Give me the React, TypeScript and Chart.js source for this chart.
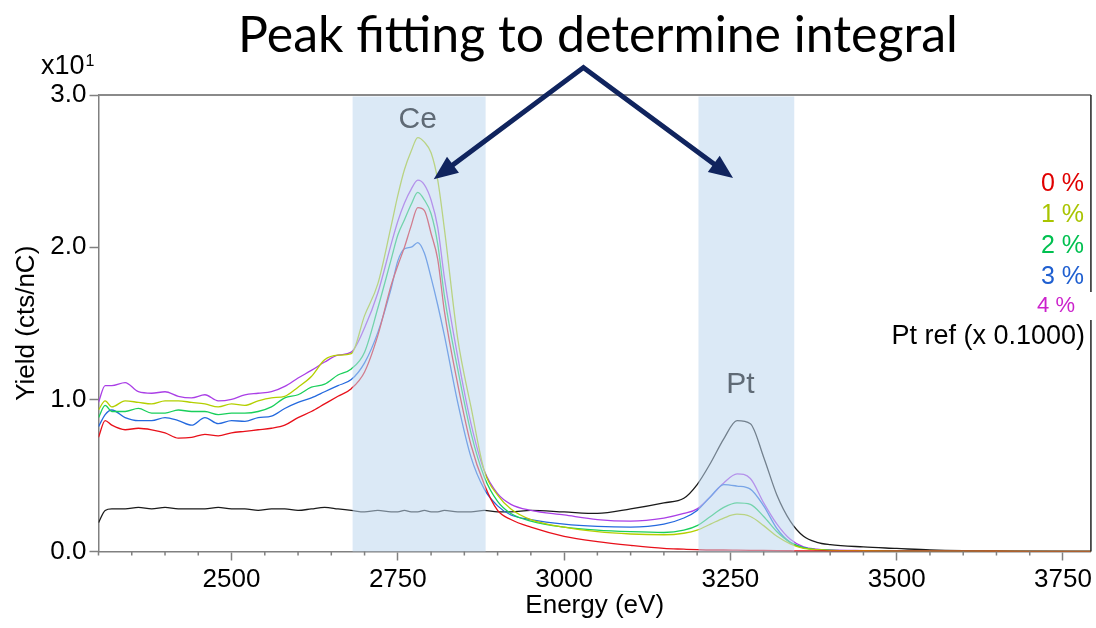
import React, { useEffect, useRef } from "react";
import { Chart, registerables } from "chart.js";

Chart.register(...registerables);

// ---------- data ----------
const energy = [
  2300, 2310, 2320, 2340, 2360, 2380, 2400, 2420, 2440, 2460, 2480, 2500, 2520, 2540, 2560, 2580, 2600, 2620, 2640, 2660,
  2680, 2700, 2720, 2740, 2750, 2760, 2770, 2780, 2790, 2800, 2810, 2820, 2840, 2860, 2880, 2900, 2920,
  2950, 3000, 3050, 3100, 3150, 3180,
  3200, 3220, 3240, 3260, 3280, 3300, 3320, 3340, 3360, 3380,
  3400, 3450, 3500, 3550, 3600, 3700, 3792,
];

const yield0 = [
  0.75, 0.86, 0.83, 0.80, 0.81, 0.80, 0.78, 0.745, 0.75, 0.77, 0.76, 0.78, 0.79, 0.80, 0.81, 0.83, 0.88, 0.92, 0.97, 1.02,
  1.07, 1.18, 1.42, 1.75, 1.88, 2.00, 2.14, 2.26, 2.24, 2.09, 1.92, 1.58, 1.10, 0.70, 0.44, 0.27, 0.21,
  0.16, 0.10, 0.065, 0.04, 0.02, 0.015,
  0.012, 0.01, 0.01, 0.009, 0.008, 0.007, 0.006, 0.005, 0.004, 0.004,
  0.003, 0.003, 0.002, 0.002, 0.002, 0.001, 0.001,
];

const yield1 = [
  0.93, 0.99, 0.95, 0.99, 0.98, 0.97, 0.99, 0.99, 0.98, 0.97, 0.95, 0.97, 0.96, 0.99, 1.01, 1.02, 1.08, 1.15, 1.26, 1.29,
  1.30, 1.55, 1.76, 2.14, 2.34, 2.51, 2.63, 2.72, 2.69, 2.62, 2.44, 2.12, 1.40, 0.95, 0.53, 0.37, 0.28,
  0.21, 0.16, 0.13, 0.115, 0.11, 0.12,
  0.14, 0.18, 0.22, 0.245, 0.23, 0.17, 0.10, 0.05, 0.02, 0.012,
  0.008, 0.005, 0.003, 0.002, 0.002, 0.001, 0.001,
];

const yield2 = [
  0.88, 0.96, 0.92, 0.92, 0.94, 0.91, 0.91, 0.93, 0.92, 0.92, 0.90, 0.91, 0.91, 0.92, 0.95, 1.01, 1.03, 1.08, 1.10, 1.16,
  1.20, 1.31, 1.60, 1.92, 2.08, 2.18, 2.28, 2.36, 2.31, 2.22, 2.02, 1.68, 1.20, 0.78, 0.49, 0.33, 0.25,
  0.20, 0.16, 0.14, 0.13, 0.125, 0.14,
  0.17, 0.23, 0.29, 0.32, 0.31, 0.23, 0.13, 0.06, 0.025, 0.012,
  0.008, 0.005, 0.003, 0.002, 0.002, 0.001, 0.001,
];

const yield3 = [
  0.82, 0.90, 0.93, 0.88, 0.86, 0.86, 0.88, 0.86, 0.83, 0.88, 0.84, 0.86, 0.855, 0.88, 0.89, 0.94, 0.98, 1.01, 1.05, 1.09,
  1.13, 1.24, 1.44, 1.73, 1.91, 1.99, 2.00, 2.03, 1.96, 1.80, 1.62, 1.42, 0.98, 0.62, 0.41, 0.30, 0.24,
  0.21, 0.18, 0.165, 0.16, 0.18, 0.22,
  0.27, 0.36, 0.44, 0.43, 0.41, 0.30, 0.15, 0.06, 0.025, 0.012,
  0.008, 0.005, 0.003, 0.002, 0.002, 0.001, 0.001,
];

const yield4 = [
  0.98, 1.09, 1.09, 1.11, 1.05, 1.04, 1.05, 1.02, 1.01, 1.03, 0.99, 1.00, 1.03, 1.04, 1.05, 1.085, 1.14, 1.19, 1.245, 1.29,
  1.31, 1.47, 1.70, 2.02, 2.17, 2.29, 2.38, 2.44, 2.41, 2.31, 2.13, 1.80, 1.28, 0.84, 0.53, 0.38, 0.31,
  0.27, 0.24, 0.21, 0.20, 0.22, 0.25,
  0.28, 0.36, 0.45, 0.51, 0.48, 0.32, 0.18, 0.08, 0.03, 0.015,
  0.01, 0.006, 0.004, 0.003, 0.002, 0.001, 0.001,
];

const yieldPtRef = [
  0.19, 0.27, 0.28, 0.28, 0.29, 0.28, 0.29, 0.28, 0.28, 0.28, 0.29, 0.28, 0.28, 0.27, 0.28, 0.28, 0.27, 0.28, 0.29, 0.28,
  0.27, 0.26, 0.27, 0.26, 0.26, 0.27, 0.26, 0.26, 0.27, 0.26, 0.26, 0.27, 0.26, 0.26, 0.27, 0.26, 0.26,
  0.27, 0.26, 0.25, 0.28, 0.32, 0.35,
  0.44, 0.58, 0.74, 0.86, 0.84, 0.62, 0.37, 0.20, 0.10, 0.06,
  0.045, 0.03, 0.02, 0.01, 0.005, 0.002, 0.0,
];

const seriesValues = [yield0, yield1, yield2, yield3, yield4, yieldPtRef];
const seriesLabels = ["0 %", "1 %", "2 %", "3 %", "4 %", "Pt ref (x 0.1000)"];
const lineColors = ["#e8101a", "#b4cf00", "#19cf5b", "#2469de", "#aa3fe6", "#1a1a1a"];
const legendColors = ["#e00000", "#a9c400", "#00c050", "#1f5fd0", "#cc22cc", "#000000"];

const xMajorTicks = [2500, 2750, 3000, 3250, 3500, 3750];
const yTicks = [0, 1, 2, 3];
const xRange = [2300, 3792];
const yRange = [0, 3];

const ceBand = [2682, 2882];
const ptBand = [3202, 3346];
const bandLabels = ["Ce", "Pt"];
const bandLabelPos = [
  [2780, 2.84],
  [3265, 1.094],
];
const arrowApex = [3029, 3.18];
const arrowTips = [
  [2804, 2.447],
  [3254, 2.454],
];
const titleText = "Peak fitting to determine integral";

const FONT = "'Liberation Sans', Arial, sans-serif";

const decorPlugin = {
  id: "decor",
  afterDatasetsDraw(chart: any) {
    const { ctx, chartArea: a, scales } = chart;
    const x = scales.x;
    ctx.save();
    ctx.fillStyle = "rgba(189,215,238,0.55)";
    for (const b of [ceBand, ptBand]) {
      const x1 = x.getPixelForValue(b[0]);
      const x2 = x.getPixelForValue(b[1]);
      ctx.fillRect(x1, a.top + 1.5, x2 - x1, a.bottom - a.top - 1.5);
    }
    ctx.restore();
  },
  afterDraw(chart: any) {
    const { ctx, chartArea: a, scales } = chart;
    const x = scales.x;
    const y = scales.y;
    ctx.save();

    // minor x ticks
    ctx.strokeStyle = "#808080";
    ctx.lineWidth = 1.5;
    ctx.beginPath();
    for (let v = xRange[0]; v <= xRange[1]; v += 50) {
      if (v % 250 === 0) continue;
      const px = x.getPixelForValue(v);
      ctx.moveTo(px, a.bottom);
      ctx.lineTo(px, a.bottom + 4);
    }
    ctx.stroke();

    // band labels
    ctx.fillStyle = "#5f6a75";
    ctx.font = `30px ${FONT}`;
    ctx.textAlign = "center";
    ctx.textBaseline = "middle";
    bandLabels.forEach((t, i) => {
      ctx.fillText(t, x.getPixelForValue(bandLabelPos[i][0]), y.getPixelForValue(bandLabelPos[i][1]));
    });

    // top border
    ctx.strokeStyle = "#8a8a8a";
    ctx.lineWidth = 2;
    ctx.beginPath();
    ctx.moveTo(a.left, a.top);
    ctx.lineTo(a.right, a.top);
    ctx.stroke();
    // right border
    ctx.strokeStyle = "#222";
    ctx.lineWidth = 1.5;
    ctx.beginPath();
    ctx.moveTo(a.right, a.top);
    ctx.lineTo(a.right, a.bottom);
    ctx.stroke();

    // legend
    ctx.fillStyle = "#fff";
    ctx.fillRect(1036, 292, 60, 28);
    const legY = [184, 215, 246, 277, 306, 337];
    const legX = [1084, 1084, 1084, 1084, 1075, 1085];
    const legSize = [25, 25, 25, 25, 22, 27];
    ctx.textAlign = "right";
    ctx.textBaseline = "middle";
    seriesLabels.forEach((t, i) => {
      ctx.fillStyle = legendColors[i];
      ctx.font = `${legSize[i]}px ${FONT}`;
      ctx.fillText(t, legX[i], legY[i]);
    });

    // x10^1
    ctx.fillStyle = "#000";
    ctx.textAlign = "left";
    ctx.textBaseline = "alphabetic";
    ctx.font = `27px ${FONT}`;
    ctx.fillText("x10", 41, 74);
    const w = ctx.measureText("x10").width;
    ctx.font = `16px ${FONT}`;
    ctx.fillText("1", 41 + w + 1, 66);

    // title
    ctx.font = `44px Lato, 'Open Sans', sans-serif`;
    const tw = ctx.measureText(titleText).width;
    const size = (44 * 720) / tw;
    ctx.font = `${size}px Lato, 'Open Sans', sans-serif`;
    ctx.textAlign = "center";
    ctx.fillText(titleText, 598, 52);

    // arrows
    const navy = "#10245e";
    const ap = [x.getPixelForValue(arrowApex[0]), y.getPixelForValue(arrowApex[1])];
    const headLen = 24;
    const headW = 10;
    const heads = arrowTips.map((t) => {
      const tx = x.getPixelForValue(t[0]);
      const ty = y.getPixelForValue(t[1]);
      const dx = tx - ap[0];
      const dy = ty - ap[1];
      const L = Math.hypot(dx, dy);
      const ux = dx / L;
      const uy = dy / L;
      return { tx, ty, ux, uy, bx: tx - ux * headLen, by: ty - uy * headLen };
    });
    ctx.strokeStyle = navy;
    ctx.fillStyle = navy;
    ctx.lineWidth = 5;
    ctx.lineJoin = "miter";
    ctx.lineCap = "butt";
    ctx.beginPath();
    ctx.moveTo(heads[0].bx + heads[0].ux * 2, heads[0].by + heads[0].uy * 2);
    ctx.lineTo(ap[0], ap[1]);
    ctx.lineTo(heads[1].bx + heads[1].ux * 2, heads[1].by + heads[1].uy * 2);
    ctx.stroke();
    for (const h of heads) {
      ctx.beginPath();
      ctx.moveTo(h.tx, h.ty);
      ctx.lineTo(h.bx - h.uy * headW, h.by + h.ux * headW);
      ctx.lineTo(h.bx + h.uy * headW, h.by - h.ux * headW);
      ctx.closePath();
      ctx.fill();
    }
    ctx.restore();
  },
};

export default function App() {
  const canvasRef = useRef<HTMLCanvasElement | null>(null);

  useEffect(() => {
    document.body.style.margin = "0";
    const canvas = canvasRef.current;
    if (!canvas) return;
    const datasets = seriesValues.map((vals, i) => ({
      label: seriesLabels[i],
      data: energy.map((e, j) => ({ x: e, y: vals[j] })),
      borderColor: lineColors[i],
      backgroundColor: lineColors[i],
      borderWidth: 1.3,
      pointRadius: 0,
      cubicInterpolationMode: "monotone" as const,
      fill: false,
    }));
    const chart = new Chart(canvas, {
      type: "line",
      data: { datasets },
      plugins: [decorPlugin],
      options: {
        animation: false,
        responsive: false,
        devicePixelRatio: 1,
        layout: { padding: { top: 95, right: 3.5, left: 0, bottom: 0 } },
        plugins: { legend: { display: false }, tooltip: { enabled: false }, title: { display: false } },
        scales: {
          x: {
            type: "linear",
            min: xRange[0],
            max: xRange[1],
            afterBuildTicks: (s: any) => {
              s.ticks = xMajorTicks.map((v) => ({ value: v }));
            },
            afterFit: (s: any) => {
              s.height = 76.5;
            },
            ticks: {
              autoSkip: false,
              maxRotation: 0,
              padding: 4,
              color: "#000",
              font: { family: FONT, size: 26 },
              callback: (v: any) => String(v),
            },
            grid: { drawOnChartArea: false, drawTicks: true, tickLength: 9, tickColor: "#808080", tickWidth: 1.5 },
            border: { display: true, color: "#808080", width: 1.5 },
            title: {
              display: true,
              text: "Energy (eV)",
              color: "#000",
              font: { family: FONT, size: 26 },
              padding: { top: 0, bottom: 7 },
            },
          },
          y: {
            type: "linear",
            min: yRange[0],
            max: yRange[1],
            afterBuildTicks: (s: any) => {
              s.ticks = yTicks.map((v) => ({ value: v }));
            },
            afterFit: (s: any) => {
              s.width = 98.5;
            },
            ticks: {
              padding: 3,
              color: "#000",
              font: { family: FONT, size: 26 },
              callback: (v: any) => Number(v).toFixed(1),
            },
            grid: { drawOnChartArea: false, drawTicks: true, tickLength: 9, tickColor: "#808080", tickWidth: 1.5 },
            border: { display: true, color: "#808080", width: 1.5 },
            title: {
              display: true,
              text: "Yield (cts/nC)",
              color: "#000",
              font: { family: FONT, size: 26 },
              padding: { top: 11, bottom: 0 },
            },
          },
        },
      },
    });
    return () => chart.destroy();
  }, []);

  return (
    <div style={{ width: 1096, height: 628, position: "relative", background: "#fff" }}>
      <canvas ref={canvasRef} width={1096} height={628} style={{ display: "block" }} />
    </div>
  );
}
